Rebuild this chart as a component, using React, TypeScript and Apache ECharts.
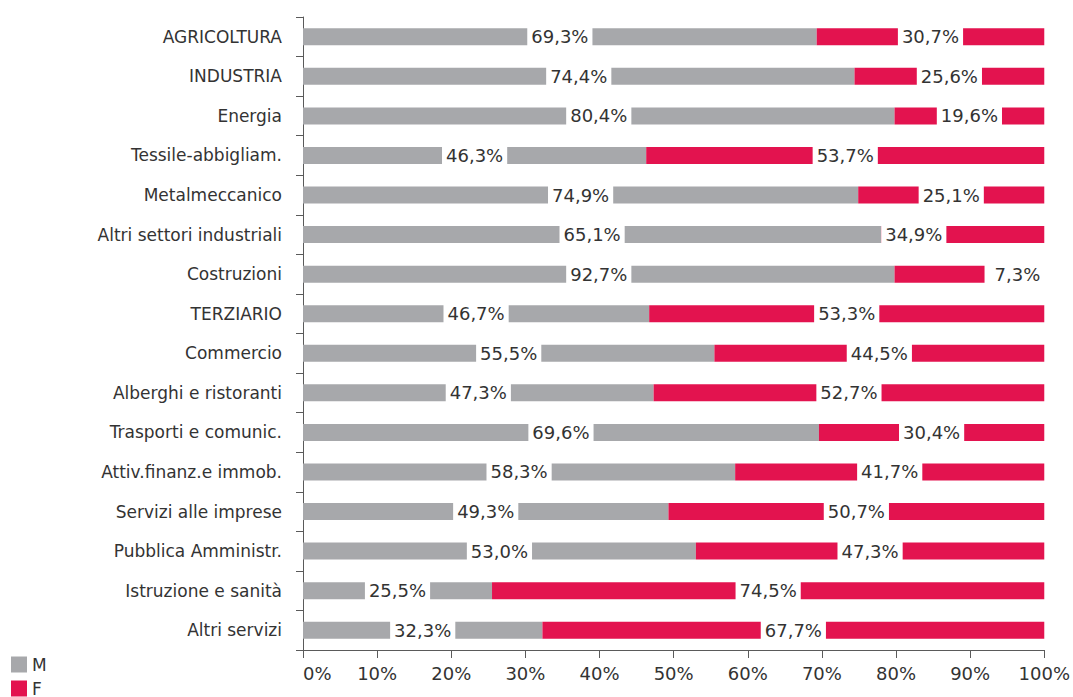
import React, { useEffect, useRef } from "react";
import * as echarts from "echarts";

const categories = [
  "AGRICOLTURA",
  "INDUSTRIA",
  "Energia",
  "Tessile-abbigliam.",
  "Metalmeccanico",
  "Altri settori industriali",
  "Costruzioni",
  "TERZIARIO",
  "Commercio",
  "Alberghi e ristoranti",
  "Trasporti e comunic.",
  "Attiv.finanz.e immob.",
  "Servizi alle imprese",
  "Pubblica Amministr.",
  "Istruzione e sanità",
  "Altri servizi",
];

// bar lengths as drawn in the picture
const mValues = [69.3, 74.4, 79.8, 46.3, 74.9, 78.0, 79.8, 46.7, 55.5, 47.3, 69.6, 58.3, 49.3, 53.0, 25.5, 32.3];
const fValues = [30.7, 25.6, 20.2, 53.7, 25.1, 22.0, 20.2, 53.3, 44.5, 52.7, 30.4, 41.7, 50.7, 47.0, 74.5, 67.7];

// printed labels
const mLabels = ["69,3%", "74,4%", "80,4%", "46,3%", "74,9%", "65,1%", "92,7%", "46,7%", "55,5%", "47,3%", "69,6%", "58,3%", "49,3%", "53,0%", "25,5%", "32,3%"];
const fLabels = ["30,7%", "25,6%", "19,6%", "53,7%", "25,1%", "34,9%", "7,3%", "53,3%", "44,5%", "52,7%", "30,4%", "41,7%", "50,7%", "47,3%", "74,5%", "67,7%"];

const xTicks = [0, 10, 20, 30, 40, 50, 60, 70, 80, 90, 100];

const GRAY = "#a7a8ab";
const RED = "#e3134f";
const TEXT = "#333333";
const AXIS = "#5a5a5a";
const FONT = "DejaVu Sans";

export default function App() {
  const ref = useRef<HTMLDivElement>(null);

  useEffect(() => {
    if (!ref.current) return;
    const chart = echarts.init(ref.current, undefined, { renderer: "svg" });

    const baseLabel = {
      show: true,
      position: "inside",
      color: TEXT,
      fontFamily: FONT,
      fontSize: 18,
      backgroundColor: "#ffffff",
      padding: [2, 4, 2, 4],
    };

    const fData = fValues.map((v, i) => {
      if (i === 5) {
        return { value: v, label: { position: "insideLeft", distance: 0, padding: [2, 4, 2, 4] } };
      }
      if (i === 6) {
        return {
          value: v,
          label: { position: "insideRight", distance: 0, offset: [2, 0], padding: [2, 6, 2, 10] },
        };
      }
      return v;
    });

    chart.setOption({
      animation: false,
      backgroundColor: "#ffffff",
      grid: { left: 303, right: 26, top: 17, bottom: 47, containLabel: false },
      legend: {
        data: ["M", "F"],
        orient: "vertical",
        left: 11,
        bottom: 0,
        padding: 0,
        itemWidth: 16,
        itemHeight: 16,
        itemGap: 7,
        icon: "rect",
        textStyle: { color: TEXT, fontFamily: FONT, fontSize: 17 },
      },
      xAxis: {
        type: "value",
        min: xTicks[0],
        max: xTicks[xTicks.length - 1],
        interval: 10,
        axisLine: { show: true, lineStyle: { color: AXIS, width: 1 } },
        axisTick: { show: true, length: 8, lineStyle: { color: AXIS } },
        splitLine: { show: false },
        axisLabel: {
          formatter: "{value}%",
          color: TEXT,
          fontFamily: FONT,
          fontSize: 18,
          margin: 14,
          alignMinLabel: "left",
        },
      },
      yAxis: {
        type: "category",
        inverse: true,
        data: categories,
        axisLine: { show: true, lineStyle: { color: AXIS, width: 1 } },
        axisTick: { show: true, length: 7, lineStyle: { color: AXIS } },
        axisLabel: {
          color: TEXT,
          fontFamily: FONT,
          fontSize: 17,
          margin: 21,
        },
      },
      series: [
        {
          name: "M",
          type: "bar",
          stack: "tot",
          barWidth: 17,
          itemStyle: { color: GRAY },
          label: { ...baseLabel, formatter: (p: any) => mLabels[p.dataIndex] },
          data: mValues,
        },
        {
          name: "F",
          type: "bar",
          stack: "tot",
          barWidth: 17,
          itemStyle: { color: RED },
          label: { ...baseLabel, formatter: (p: any) => fLabels[p.dataIndex] },
          data: fData,
        },
      ],
    });

    return () => chart.dispose();
  }, []);

  return (
    <div
      ref={ref}
      style={{ position: "fixed", left: 0, top: 0, width: 1073, height: 697, background: "#fff" }}
    />
  );
}
